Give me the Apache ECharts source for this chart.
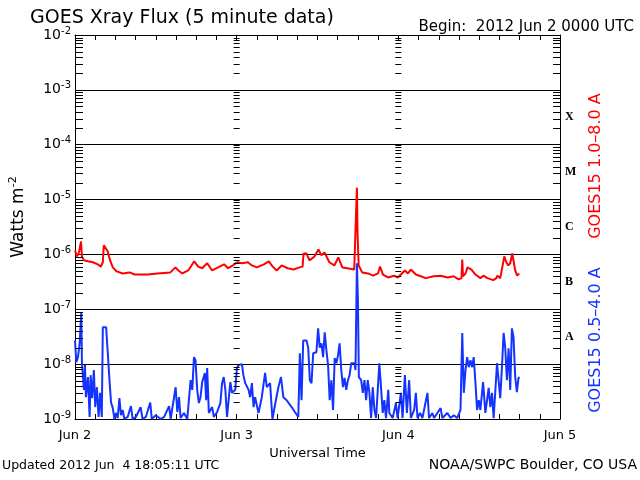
<!DOCTYPE html>
<html><head><meta charset="utf-8">
<script src="https://cdn.jsdelivr.net/npm/echarts@6/dist/echarts.min.js"></script>
<style>html,body{margin:0;padding:0;background:#fff}#c{width:640px;height:480px}</style>
</head><body><div id="c"></div>
<script>
// Hours since 2012 Jun 2 00:00 UTC
var longHours = [0,0.30,0.59,0.89,1.03,1.33,1.92,2.66,3.39,3.84,4.13,4.28,4.57,4.87,5.16,5.61,6.20,7.08,8.11,8.85,10.77,12.24,14.16,14.90,15.34,15.93,16.82,17.70,18.29,18.88,19.62,20.36,21.24,22.13,22.72,23.45,24.04,24.78,25.67,26.26,27.0,28.03,28.76,29.35,29.94,30.68,31.57,32.45,33.34,33.78,33.93,34.37,34.81,35.55,36.14,36.58,37.03,37.76,38.5,39.09,39.68,40.42,41.45,41.74,41.85,41.94,42.11,42.63,43.51,44.25,44.99,45.28,45.73,46.47,47.35,47.94,48.53,48.97,49.42,49.86,50.60,51.34,52.07,53.25,54.28,55.32,56.20,56.94,57.38,57.49,57.6,57.97,58.27,58.86,59.45,60.18,60.63,61.22,62.10,62.55,62.69,63.13,63.43,63.73,64.02,64.32,64.61,64.91,65.13,65.35,65.64,65.94];
var longFlux = [1.18e-6,9.2e-7,1.09e-6,1.72e-6,9.2e-7,7.8e-7,7.5e-7,7.2e-7,6.6e-7,6.0e-7,7.2e-7,1.46e-6,1.40e-6,1.13e-6,8.1e-7,5.8e-7,4.9e-7,4.5e-7,4.7e-7,4.3e-7,4.3e-7,4.5e-7,4.7e-7,5.8e-7,5.1e-7,4.5e-7,5.1e-7,7.5e-7,6.0e-7,5.6e-7,6.9e-7,5.1e-7,5.8e-7,6.6e-7,5.6e-7,6.3e-7,7.2e-7,6.9e-7,7.2e-7,6.3e-7,5.8e-7,6.6e-7,7.5e-7,6.0e-7,5.1e-7,6.3e-7,5.6e-7,5.3e-7,5.8e-7,6.0e-7,1.04e-6,1.04e-6,7.8e-7,9.2e-7,1.23e-6,9.6e-7,1.09e-6,7.2e-7,6.3e-7,8.8e-7,5.8e-7,5.6e-7,5.3e-7,5.6e-7,1.65e-5,2.6e-6,6.3e-7,4.7e-7,4.5e-7,4.1e-7,4.5e-7,6.0e-7,4.3e-7,3.8e-7,4.1e-7,3.8e-7,4.5e-7,5.1e-7,4.5e-7,5.3e-7,4.3e-7,4.0e-7,3.7e-7,4.0e-7,4.1e-7,3.8e-7,4.0e-7,3.5e-7,3.7e-7,8.1e-7,4.0e-7,4.5e-7,5.8e-7,5.3e-7,4.3e-7,3.7e-7,4.1e-7,3.7e-7,3.4e-7,3.7e-7,4.1e-7,3.7e-7,5.8e-7,9.2e-7,7.2e-7,6.3e-7,6.9e-7,1.04e-6,9.6e-7,5.1e-7,4.1e-7,4.5e-7];

var shortHours = [0,0.19,0.44,0.69,0.93,1.03,1.33,1.48,1.62,1.92,2.17,2.32,2.55,2.80,3.0,3.25,3.50,3.73,3.98,4.13,4.38,4.62,4.87,5.12,5.35,5.61,5.86,6.09,6.34,6.59,6.83,7.08,7.33,7.82,8.30,8.56,9.04,9.74,10.03,10.52,11.17,11.40,11.99,12.73,13.23,13.97,14.2,14.94,15.19,15.44,15.68,16.18,16.67,17.16,17.41,17.66,17.89,18.14,18.39,18.63,18.88,19.28,19.47,19.62,19.87,20.36,20.61,21.1,21.58,21.83,22.08,22.32,22.57,23.06,23.31,23.79,24.04,24.29,24.78,25.0,25.27,25.77,26.0,26.26,26.51,26.74,27.24,27.73,28.22,28.47,28.96,29.31,29.69,30.19,30.58,30.93,31.42,32.16,32.64,33.15,33.38,33.63,33.88,34.37,34.62,34.86,35.11,35.36,35.84,36.09,36.33,36.58,36.83,37.07,37.32,37.57,37.81,38.06,38.31,38.55,38.80,39.05,39.28,39.53,39.78,40.02,40.27,40.52,40.76,41.01,41.49,41.64,41.85,42.0,42.14,42.48,42.73,42.97,43.22,43.46,43.71,43.96,44.2,44.45,44.70,45.18,45.43,45.68,45.92,46.17,46.51,46.66,47.16,47.64,47.89,48.38,48.63,48.97,49.27,49.61,49.86,50.35,50.60,50.85,51.23,51.58,52.32,52.56,53.06,53.30,53.80,54.28,54.53,55.27,55.76,56.24,56.74,57.23,57.49,57.72,57.97,58.22,58.46,58.71,58.96,59.19,59.45,59.69,59.94,60.18,60.58,60.92,61.41,61.66,61.91,62.15,62.65,62.88,63.13,63.38,63.63,63.87,64.12,64.37,64.61,64.86,65.10,65.35,65.60,65.84,66.0];
var shortFlux = [2.7e-8,1.09e-8,1.34e-8,2.4e-8,8.8e-8,1.04e-8,3.4e-9,9.6e-9,2.5e-9,5.8e-9,1.09e-9,6.3e-9,2.4e-9,7.8e-9,1.65e-9,3.8e-9,1.09e-9,3.0e-9,1.09e-9,4.7e-8,5.1e-8,4.7e-8,1.58e-8,5.1e-9,2.0e-9,1.58e-9,1e-9,1.29e-9,1.04e-9,2.4e-9,1.17e-9,1.46e-9,1e-9,1.09e-9,1.72e-9,1e-9,1.09e-9,1.65e-9,1e-9,1.09e-9,2.0e-9,1e-9,1.17e-9,1e-9,1.09e-9,1.72e-9,1e-9,3.8e-9,1.34e-9,2.5e-9,1.04e-9,1.29e-9,1e-9,5.1e-9,3.4e-9,1.34e-8,1.18e-8,3.4e-9,1.95e-9,2.5e-9,4.7e-9,6.9e-9,2.2e-9,8.5e-9,1.29e-9,1.65e-9,1.09e-9,1.34e-9,1.95e-9,4.5e-9,5.8e-9,3.4e-9,1.09e-9,4.7e-9,3.0e-9,3.4e-9,8.5e-9,9.6e-9,1.0e-8,6.3e-9,4.5e-9,3.4e-9,2.5e-9,4.5e-9,1.65e-9,2.5e-9,1.29e-9,2.5e-9,6.9e-9,3.8e-9,4.5e-9,1e-9,1.8e-9,3.8e-9,5.8e-9,2.5e-9,2.2e-9,1.65e-9,1.34e-9,1.09e-9,1.58e-8,2.2e-9,2.7e-8,2.7e-8,2.0e-8,5.1e-9,4.5e-9,1.58e-8,1.65e-8,4.5e-8,2.0e-8,2.4e-8,1.34e-8,3.8e-8,1.8e-8,9.6e-9,2.2e-9,5.1e-9,1.46e-9,1.29e-8,1.04e-8,1.46e-8,2.4e-8,7.8e-9,3.8e-9,5.6e-9,3.4e-9,5.1e-9,6.3e-9,1.04e-8,1.04e-8,7.8e-9,6.9e-7,1.46e-7,5.8e-9,5.1e-9,3.0e-9,5.1e-9,2.2e-9,5.1e-9,3.0e-9,1.04e-9,3.8e-9,1.46e-9,1.04e-9,1.04e-8,3.8e-9,1.29e-9,2.2e-9,1.04e-9,3.4e-9,1.29e-9,1.04e-9,1.95e-9,1.04e-9,3.0e-9,1.04e-9,6.3e-9,1.29e-9,5.1e-9,1.04e-9,1.46e-9,3.0e-9,1.04e-9,1.29e-9,1.04e-9,3.0e-9,1.04e-9,1.29e-9,1.04e-9,1.29e-9,1.58e-9,1.04e-9,1.29e-9,1.04e-9,1.17e-9,1.04e-9,1.46e-9,3.7e-8,3.0e-9,7.8e-9,1.34e-8,8.8e-9,1.18e-8,8.8e-9,1.34e-8,4.5e-9,1.46e-9,2.2e-9,1.46e-9,4.7e-9,1.29e-9,3.7e-9,1.65e-9,3.0e-9,1.04e-9,1.04e-8,5.1e-9,2.4e-9,8.8e-9,3.7e-8,2.0e-8,5.1e-9,1.95e-8,3.4e-9,4.5e-8,3.1e-8,5.8e-9,3.1e-9,5.6e-9,5.8e-9];

var dayLabels = ['Jun 2','Jun 3','Jun 4','Jun 5'];
var classLabels = ['', 'A', 'B', 'C', 'M', 'X', ''];
var minorMultipliers = [2,3,4,5,6,7,8,9];
var decadeExponents = [-9,-8,-7,-6,-5,-4,-3];
var axisStartHour = 0, axisEndHour = 72;
// tick columns: [hour, anchor, kind] kind 1 = day line, 2 = right frame, 3 = left frame
var tickColumns = [[72, 1e-6, 2], [24, 1e-6, 1], [48, 1e-6, 1], [24, 1e-6, 3]];

var FONT = 'DejaVu Sans';

function zip(a, b){ var r=[]; for (var i=0;i<a.length;i++) r.push([a[i], b[i]]); return r; }

var chart = echarts.init(document.getElementById('c'), null, {renderer: 'canvas'});
chart.setOption({
  animation: false,
  backgroundColor: '#ffffff',
  textStyle: {fontFamily: FONT},
  grid: {left: 72, right: 80, top: 35, bottom: 61, containLabel: false},
  title: [
    {text: 'GOES Xray Flux (5 minute data)', left: 25, top: 4,
     textStyle: {fontFamily: FONT, fontSize: 19, fontWeight: 'normal', color: '#000'}},
    {text: 'Begin:  2012 Jun 2 0000 UTC', right: 1, top: 15,
     textStyle: {fontFamily: FONT, fontSize: 15, fontWeight: 'normal', color: '#000'}}
  ],
  xAxis: [{
    type: 'value', min: axisStartHour, max: axisEndHour, interval: 3, position: 'bottom',
    axisLine: {show: true, onZero: false, lineStyle: {color: '#000', width: 1}},
    axisTick: {show: true, inside: true, length: 5, lineStyle: {color: '#000'}},
    splitLine: {show: false},
    axisLabel: {color: '#000', fontSize: 13, fontFamily: FONT, margin: 10,
      formatter: function(v){ return (v % 24 === 0) ? dayLabels[v/24] : ''; }},
    name: 'Universal Time', nameLocation: 'middle', nameGap: 26,
    nameTextStyle: {color: '#000', fontSize: 13, fontFamily: FONT}
  }, {
    type: 'value', min: axisStartHour, max: axisEndHour, interval: 3, position: 'top',
    axisLine: {show: true, onZero: false, lineStyle: {color: '#000', width: 1}},
    axisTick: {show: true, inside: true, length: 5, lineStyle: {color: '#000'}},
    splitLine: {show: false}, axisLabel: {show: false}
  }],
  yAxis: [{
    type: 'log', logBase: 10, min: 1e-9, max: 1e-2, position: 'left',
    axisLine: {show: true, onZero: false, lineStyle: {color: '#000', width: 1}},
    axisTick: {show: false},
    splitLine: {show: true, lineStyle: {color: '#000', width: 1}},
    axisLabel: {margin: 4, color: '#000',
      formatter: function(v){ return '{b|10}{s|' + Math.round(Math.log10(v)) + '}'; },
      rich: {
        b: {fontFamily: FONT, fontSize: 14, color: '#000'},
        s: {fontFamily: FONT, fontSize: 10, color: '#000', verticalAlign: 'top', padding: [0,0,8,0]}
      }},
    name: '{n|Watts m}{s|-2}', nameLocation: 'middle', nameGap: 46, nameRotate: 90,
    nameTextStyle: {padding: [0, 0, 0, 20], rich: {
      n: {fontFamily: FONT, fontSize: 17, color: '#000'},
      s: {fontFamily: FONT, fontSize: 11, color: '#000', padding: [0,0,10,0]}
    }}
  }, {
    type: 'category', data: classLabels, position: 'right', boundaryGap: true,
    axisLine: {show: true, onZero: false, lineStyle: {color: '#000', width: 1}},
    axisTick: {show: false}, splitLine: {show: false},
    axisLabel: {margin: 5, color: '#000', fontFamily: 'Liberation Serif', fontWeight: 'bold', fontSize: 12, interval: 0}
  }],
  graphic: [
    {type: 'text', x: 596, y: 166, rotation: Math.PI/2,
     style: {text: 'GOES15 1.0\u20138.0 A', fill: '#ff0000', font: '16px "DejaVu Sans"', align: 'center', verticalAlign: 'middle'}},
    {type: 'text', x: 596, y: 340, rotation: Math.PI/2,
     style: {text: 'GOES15 0.5\u20134.0 A', fill: '#1433ff', font: '16px "DejaVu Sans"', align: 'center', verticalAlign: 'middle'}},
    {type: 'text', left: 2, top: 459,
     style: {text: 'Updated 2012 Jun  4 18:05:11 UTC', fill: '#000', font: '12.5px "DejaVu Sans"'}},
    {type: 'text', right: 3, top: 458,
     style: {text: 'NOAA/SWPC Boulder, CO USA', fill: '#000', font: '14px "DejaVu Sans"'}}
  ],
  series: [{
    type: 'custom', xAxisIndex: 0, yAxisIndex: 0, silent: true, clip: false, z: 10,
    data: tickColumns,
    renderItem: function(params, api){
      var col = api.value(0);
      var kind = api.value(2);
      var children = [];
      function seg(x1, x2, y){
        var yy = Math.round(y) + 0.5;
        children.push({type: 'line', shape: {x1: x1, y1: yy, x2: x2, y2: yy},
                       style: {stroke: '#000', lineWidth: 1}});
      }
      decadeExponents.forEach(function(e){
        var mults = kind === 1 ? [1].concat(minorMultipliers) : minorMultipliers;
        mults.forEach(function(m){
          var v = m * Math.pow(10, e);
          var p = api.coord([col, v]);
          if (kind === 2) {
            seg(p[0] - 7, p[0], p[1]);
          } else if (kind === 3) {
            // left frame: x position of hour 0 taken from the axis scale (coord of 24h minus one day width)
            var p48 = api.coord([48, v]);
            var lx = p[0] - (p48[0] - p[0]);
            seg(lx, lx + 8, p[1]);
          } else {
            seg(p[0] - 3, p[0] + 3, p[1]);
          }
        });
      });
      return {type: 'group', children: children};
    }
  }, {
    name: 'GOES15 1.0-8.0 A', type: 'line', xAxisIndex: 0, yAxisIndex: 0,
    data: zip(longHours, longFlux), showSymbol: false, symbol: 'none',
    lineStyle: {color: '#ff0000', width: 2}, z: 3
  }, {
    name: 'GOES15 0.5-4.0 A', type: 'line', xAxisIndex: 0, yAxisIndex: 0,
    data: zip(shortHours, shortFlux), showSymbol: false, symbol: 'none',
    lineStyle: {color: '#1433ff', width: 2}, z: 3
  }]
});
</script>
</body></html>
